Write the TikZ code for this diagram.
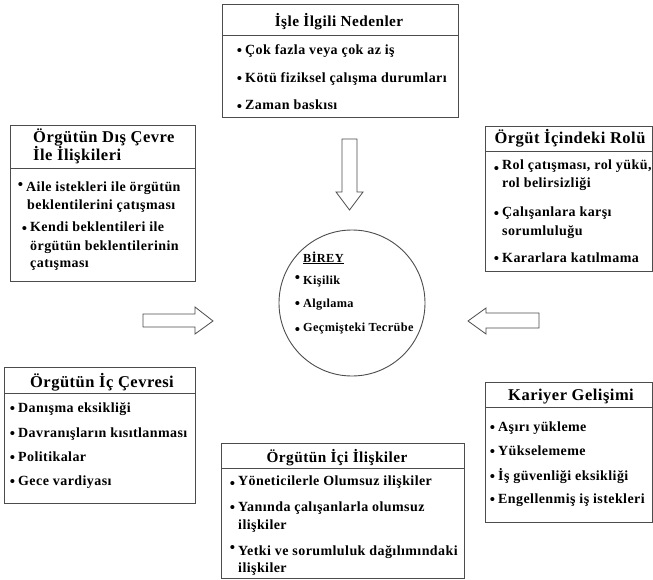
\documentclass[tikz,border=0pt]{standalone}
\usepackage{fontspec}
\setmainfont{Liberation Serif}[LetterSpace=3]
\newcommand{\hdrf}{\fontsize{16.5}{18}\selectfont\bfseries}
\newcommand{\hdrs}{\fontsize{15.3}{17}\selectfont\bfseries}
\newcommand{\itf}{\fontsize{14}{16}\selectfont\bfseries}
\newcommand{\cif}{\fontsize{12.3}{14}\selectfont\bfseries}
\newcommand{\bul}[1]{\llap{\raisebox{#1}{\fontsize{15}{15}\selectfont\textbullet}\hspace{3pt}}}
\tikzset{
  box/.style={draw=black!70, line width=0.9pt, rectangle, inner sep=0, anchor=north west},
  sepline/.style={draw=black!70, line width=0.9pt},
  hdr/.style={font=\hdrf, anchor=base, inner sep=0},
  hdrl/.style={font=\hdrf, anchor=base west, inner sep=0},
  itm/.style={font=\itf, anchor=base west, inner sep=0},
  cit/.style={font=\cif, anchor=base west, inner sep=0},
  blockarrow/.style={draw=black!70, line width=0.8pt, fill=white, line join=miter}
}
\begin{document}
\begin{tikzpicture}[x=1pt,y=-1pt]
\useasboundingbox (0,0) rectangle (653,580);
% top box
\node[box, minimum width=236pt, minimum height=113pt] (bTop) at (222,4) {};
\draw[sepline] (bTop.west |- 0,35) -- (bTop.east |- 0,35);
\node[hdr, font=\hdrs] (hTop) at (339,27) {İşle İlgili Nedenler};
\node[itm] (t1) at (245,54.5) {\bul{-1.5pt}Çok fazla veya çok az iş};
\node[itm] (t2) at (245,82.5) {\bul{-1.5pt}Kötü fiziksel çalışma durumları};
\node[itm] (t3) at (245,110) {\bul{-1.5pt}Zaman baskısı};
% left box
\node[box, minimum width=185pt, minimum height=156pt] (bLeft) at (10,125) {};
\draw[sepline] (bLeft.west |- 0,168) -- (bLeft.east |- 0,168);
\node[hdrl] (hL1) at (33,143) {Örgütün Dış Çevre};
\node[hdrl] (hL2) at (33,161) {İle İlişkileri};
\node[itm] (l1) at (26,192) {\bul{2.5pt}Aile istekleri ile örgütün};
\node[itm] (l2) at (27,209.5) {beklentilerini çatışması};
\node[itm] (l3) at (30,232) {\bul{-1.5pt}Kendi beklentileri ile};
\node[itm] (l4) at (30,250) {örgütün beklentilerinin};
\node[itm] (l5) at (30,267) {çatışması};
% right box
\node[box, minimum width=167pt, minimum height=145pt] (bRight) at (485,126) {};
\draw[sepline] (bRight.west |- 0,151) -- (bRight.east |- 0,151);
\node[hdr] (hR) at (570,144) {Örgüt İçindeki Rolü};
\node[itm] (r1) at (502,170) {\bul{-3.5pt}Rol çatışması, rol yükü,};
\node[itm] (r2) at (502,188) {rol belirsizliği};
\node[itm] (r3) at (502,217) {\bul{-1.5pt}Çalışanlara karşı};
\node[itm] (r4) at (502,235) {sorumluluğu};
\node[itm] (r5) at (502,262) {\bul{-1.5pt}Kararlara katılmama};
% circle
\node[draw=black!70, line width=0.9pt, circle, minimum size=146pt, inner sep=0] (birey) at (352,303) {};
\node[cit] (c0) at (303,262) {\underline{BİREY}};
\node[cit] (c1) at (303,284) {\bul{2pt}Kişilik};
\node[cit] (c2) at (303,307) {\bul{-1.5pt}Algılama};
\node[cit] (c3) at (303,331) {\bul{-3.5pt}Geçmişteki Tecrübe};
% block arrows
\draw[blockarrow] (342,139) -- (357,139) -- (357,192) -- (363,192) -- (349.5,210) -- (336,192) -- (342,192) -- cycle;
\draw[blockarrow] (143,314) -- (195,314) -- (195,307) -- (213,321) -- (195,334) -- (195,327) -- (143,327) -- cycle;
\draw[blockarrow] (539,313) -- (486,313) -- (486,308) -- (468,321) -- (486,334) -- (486,328) -- (539,328) -- cycle;
% bottom-left box
\node[box, minimum width=191pt, minimum height=136pt] (bIc) at (4,367) {};
\draw[sepline] (bIc.west |- 0,393) -- (bIc.east |- 0,393);
\node[hdr] (hIc) at (102,387) {Örgütün İç Çevresi};
\node[itm] (i1) at (18,412) {\bul{-1.5pt}Danışma eksikliği};
\node[itm] (i2) at (18,437) {\bul{-1.5pt}Davranışların kısıtlanması};
\node[itm] (i3) at (18,461) {\bul{-1.5pt}Politikalar};
\node[itm] (i4) at (18,485) {\bul{-1.5pt}Gece vardiyası};
% bottom-middle box
\node[box, minimum width=243pt, minimum height=135pt] (bIci) at (221,443) {};
\draw[sepline] (bIci.west |- 0,468) -- (bIci.east |- 0,468);
\node[hdr, font=\hdrs] (hIci) at (337,462) {Örgütün İçi İlişkiler};
\node[itm] (m1) at (238,485) {\bul{-3.5pt}Yöneticilerle Olumsuz ilişkiler};
\node[itm] (m2) at (238,511) {\bul{-1.5pt}Yanında çalışanlarla olumsuz};
\node[itm] (m3) at (238,529) {ilişkiler};
\node[itm] (m4) at (238,555) {\bul{2.5pt}Yetki ve sorumluluk dağılımındaki};
\node[itm] (m5) at (238,572) {ilişkiler};
% bottom-right box
\node[box, minimum width=167pt, minimum height=140pt] (bKar) at (485,382) {};
\draw[sepline] (bKar.west |- 0,407) -- (bKar.east |- 0,407);
\node[hdr] (hKar) at (571,400) {Kariyer Gelişimi};
\node[itm] (k1) at (498,431) {\bul{-1.5pt}Aşırı yükleme};
\node[itm] (k2) at (498,455) {\bul{-1.5pt}Yükselememe};
\node[itm] (k3) at (498,480) {\bul{-1.5pt}İş güvenliği eksikliği};
\node[itm] (k4) at (498,503) {\bul{-1.5pt}Engellenmiş iş istekleri};
\end{tikzpicture}
\end{document}
